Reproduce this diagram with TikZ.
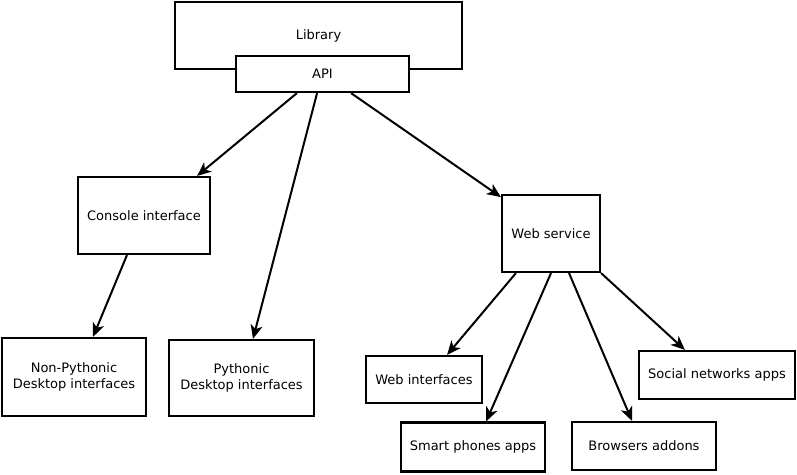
\documentclass[tikz,border=0pt]{standalone}
\usepackage{fontspec}
\setmainfont{DejaVu Sans}
\usetikzlibrary{arrows.meta,calc}
\begin{document}
\begin{tikzpicture}[x=1pt,y=-1pt,
  box/.style={draw=black,line width=2.2pt,fill=white,rectangle,inner sep=0pt,align=center,font=\fontsize{13}{16}\selectfont},
  arr/.style={line width=2pt,-{Stealth[length=14pt,width=12pt,inset=4pt]}}]
\useasboundingbox (0,0) rectangle (797,474);
\node[box,minimum width=287pt,minimum height=67pt] (lib) at (318.5,35.5) {Library};
\node[box,minimum width=173pt,minimum height=36pt] (api) at (322.5,74) {API};
\node[box,minimum width=132pt,minimum height=77pt] (con) at (144,215.5) {Console interface};
\node[box,minimum width=144pt,minimum height=78pt] (npy) at (74,377) {Non-Pythonic\\Desktop interfaces};
\node[box,minimum width=145pt,minimum height=76pt] (py) at (241.5,378) {Pythonic\\Desktop interfaces};
\node[box,minimum width=98pt,minimum height=77pt] (web) at (551,233.5) {Web service};
\node[box,minimum width=116pt,minimum height=47pt] (wi) at (424,379.5) {Web interfaces};
\node[box,minimum width=144pt,minimum height=49pt] (sp) at (473,447) {Smart phones apps};
\node[box,minimum width=144pt,minimum height=48pt] (ba) at (644,446) {Browsers addons};
\node[box,minimum width=156pt,minimum height=48pt] (sn) at (717,375) {Social networks apps};
\draw[arr] ($(api.south west)!0.354!(api.south east)$) -- ($(con.north west)!0.896!(con.north east)$);
\draw[arr] ($(api.south west)!0.469!(api.south east)$) -- ($(py.north west)!0.578!(py.north east)$);
\draw[arr] ($(api.south west)!0.663!(api.south east)$) -- ($(web.north west)!0.04!(web.south west)$);
\draw[arr] ($(con.south west)!0.373!(con.south east)$) -- ($(npy.north west)!0.63!(npy.north east)$);
\draw[arr] ($(web.south west)!0.15!(web.south east)$) -- ($(wi.north west)!0.695!(wi.north east)$);
\draw[arr] ($(web.south west)!0.5!(web.south east)$) -- ($(sp.north west)!0.59!(sp.north east)$);
\draw[arr] ($(web.south west)!0.68!(web.south east)$) -- ($(ba.north west)!0.418!(ba.north east)$);
\draw[arr] (web.south east) -- ($(sn.north west)!0.297!(sn.north east)$);
\end{tikzpicture}
\end{document}
